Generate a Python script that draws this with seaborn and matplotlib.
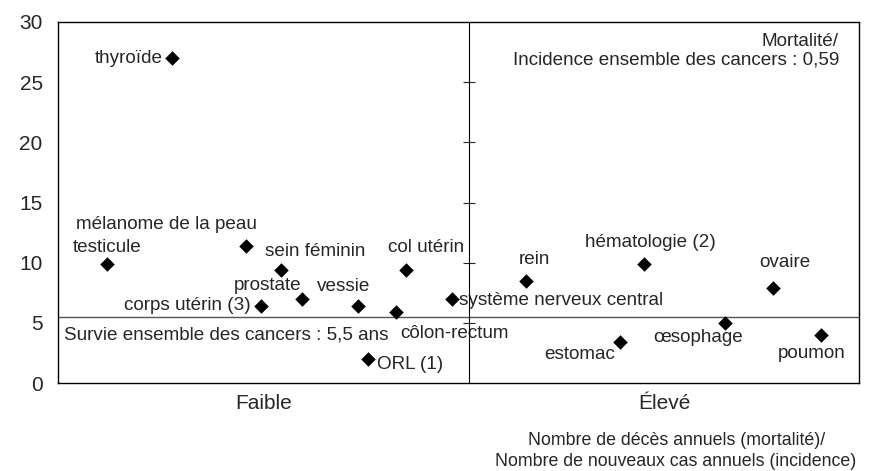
import matplotlib
matplotlib.use("Agg")
import matplotlib.pyplot as plt
import seaborn as sns
import pandas as pd

# Localisations de cancer, rapport mortalité/incidence et survie (années)
sites = ["thyroïde", "testicule", "mélanome de la peau", "sein féminin",
         "corps utérin (3)", "prostate", "vessie", "côlon-rectum",
         "col utérin", "ORL (1)", "système nerveux central", "rein",
         "hématologie (2)", "ovaire", "estomac", "œsophage", "poumon"]
ratio = [0.163, 0.070, 0.270, 0.320, 0.291, 0.350, 0.431, 0.485,
         0.500, 0.445, 0.566, 0.672, 0.841, 1.027, 0.807, 0.958, 1.096]
survie = [27.0, 9.9, 11.4, 9.4, 6.4, 7.0, 6.4, 5.9,
          9.4, 2.0, 7.0, 8.5, 9.9, 7.9, 3.4, 5.0, 4.0]

ratio_global = 0.59
survie_global = 5.5
x_ticks = [0.295, 0.87]
x_ticklabels = ["Faible", "Élevé"]

# placement des étiquettes (décalage en pixels, alignement)
label_offsets = {
    "thyroïde": (-9, 0, "right"),
    "testicule": (0, 16, "center"),
    "mélanome de la peau": (11, 21, "right"),
    "sein féminin": (-16, 18, "left"),
    "corps utérin (3)": (-10, 0, "right"),
    "prostate": (0, 13, "right"),
    "vessie": (-15, 19, "center"),
    "côlon-rectum": (4, -21, "left"),
    "col utérin": (20, 22, "center"),
    "ORL (1)": (9, -6, "left"),
    "système nerveux central": (7, -2, "left"),
    "rein": (8, 21, "center"),
    "hématologie (2)": (7, 21, "center"),
    "ovaire": (12, 25, "center"),
    "estomac": (-5, -12, "right"),
    "œsophage": (-27, -15, "center"),
    "poumon": (-10, -19, "center"),
}

df = pd.DataFrame({"site": sites, "ratio": ratio, "survie": survie})

sns.set_style("white")
plt.rcParams["font.family"] = ["Liberation Sans", "DejaVu Sans"]

fig = plt.figure(figsize=(8.69, 4.71), dpi=100)
ax = fig.add_axes([0.0667, 0.1868, 0.9218, 0.7665])

sns.scatterplot(data=df, x="ratio", y="survie", marker="D", color="black",
                s=55, edgecolor="black", linewidth=0, ax=ax, zorder=3)

ax.set_xlim(0, 1.15)
ax.set_ylim(0, 30)
ax.set_yticks(range(0, 31, 5))
ax.set_xticks(x_ticks)
ax.set_xticklabels(x_ticklabels)
ax.tick_params(axis="y", length=0, pad=11, labelsize=15)
ax.tick_params(axis="x", length=0, pad=8, labelsize=15)
ax.set_xlabel("")
ax.set_ylabel("")
for sp in ax.spines.values():
    sp.set_color("black")
    sp.set_linewidth(1)

# lignes de référence
ax.axhline(survie_global, color="#555555", lw=1, zorder=1)
twin = ax.twinx()
twin.set_ylim(0, 30)
twin.set_yticks(range(5, 30, 5))
twin.spines["right"].set_position(("data", ratio_global))
twin.spines["right"].set_color("black")
twin.spines["right"].set_linewidth(0.8)
for side in ["left", "top", "bottom"]:
    twin.spines[side].set_visible(False)
twin.tick_params(axis="y", direction="inout", length=9, width=0.8,
                 labelright=False, right=True, left=False)

for name, x, y in zip(sites, ratio, survie):
    dx, dy, ha = label_offsets[name]
    ax.annotate(name, (x, y), xytext=(dx, dy), textcoords="offset pixels",
                ha=ha, va="center", fontsize=13.6)

ax.annotate("Survie ensemble des cancers : 5,5 ans", (0, survie_global),
            xytext=(6, -18), textcoords="offset pixels", ha="left",
            va="center", fontsize=13.6)
ax.text(0.975, 0.97, "Mortalité/\nIncidence ensemble des cancers : 0,59",
        transform=ax.transAxes, ha="right", va="top", fontsize=13.6,
        multialignment="right", linespacing=1.15)

# titre de l'axe des abscisses, sur deux lignes
fig.text(0.778, 0.0552, "Nombre de décès annuels (mortalité)/",
         ha="center", va="baseline", fontsize=12.8)
fig.text(0.778, 0.0115, "Nombre de nouveaux cas annuels (incidence)",
         ha="center", va="baseline", fontsize=12.8)

fig.savefig("out.png", dpi=100)
